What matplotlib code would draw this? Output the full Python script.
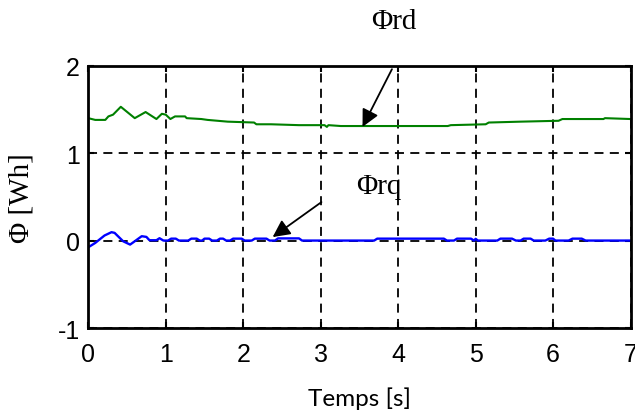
import matplotlib
matplotlib.use("Agg")
import matplotlib.pyplot as plt

plt.rcParams["font.family"] = ["Liberation Sans", "DejaVu Sans"]
plt.rcParams["axes.unicode_minus"] = False

# Phi_rd (green)
t_rd = [0.00, 0.09, 0.22, 0.26, 0.32, 0.42, 0.60, 0.74, 0.88, 0.95, 1.00,
        1.06, 1.12, 1.25, 1.27, 1.46, 1.54, 1.80, 2.14, 2.17, 2.36, 2.72,
        3.05, 3.08, 3.10, 3.26, 4.64, 4.68, 5.13, 5.17, 5.58, 6.07, 6.12,
        6.65, 6.67, 7.00]
phi_rd = [1.40, 1.38, 1.38, 1.42, 1.44, 1.53, 1.40, 1.47, 1.39, 1.45, 1.44,
          1.39, 1.42, 1.42, 1.40, 1.39, 1.38, 1.36, 1.35, 1.33, 1.33, 1.32,
          1.32, 1.30, 1.32, 1.31, 1.31, 1.32, 1.33, 1.35, 1.36, 1.37, 1.39,
          1.39, 1.40, 1.39]

# Phi_rq (blue)
t_rq = [0.00, 0.09, 0.21, 0.30, 0.34, 0.45, 0.54, 0.60, 0.69, 0.75, 0.79,
        0.88, 0.92, 0.97, 1.03, 1.07, 1.13, 1.17, 1.29, 1.33, 1.40, 1.44,
        1.47, 1.50, 1.56, 1.60, 1.66, 1.70, 1.74, 1.78, 1.83, 1.87, 1.98,
        2.02, 2.11, 2.15, 2.30, 2.34, 2.41, 2.45, 2.72, 2.76, 3.69, 3.73,
        4.59, 4.63, 4.72, 4.76, 4.94, 4.98, 5.00, 5.03, 5.28, 5.32, 5.47,
        5.52, 5.58, 5.62, 5.71, 5.75, 5.90, 5.95, 6.00, 6.03, 6.20, 6.25,
        6.37, 6.42, 7.00]
phi_rq = [-0.077, -0.027, 0.058, 0.096, 0.088, -0.008, -0.046, -0.008, 0.050, 0.042, 0.004,
          0.004, 0.027, 0.000, 0.000, 0.022, 0.022, 0.000, 0.000, 0.022, 0.022, 0.000,
          0.000, 0.022, 0.022, 0.000, 0.000, 0.022, 0.022, 0.000, 0.000, 0.022, 0.022,
          0.000, 0.000, 0.022, 0.022, 0.000, 0.000, 0.025, 0.025, 0.000, 0.000, 0.022,
          0.022, 0.000, 0.000, 0.022, 0.022, 0.000, 0.020, 0.000, 0.000, 0.022, 0.022,
          0.000, 0.000, 0.022, 0.022, 0.000, 0.000, 0.022, 0.022, 0.000, 0.000, 0.022,
          0.022, 0.000, 0.000]

x_ticks = [0, 1, 2, 3, 4, 5, 6, 7]
y_ticks = [-1, 0, 1, 2]

fig = plt.figure(figsize=(6.35, 4.14), dpi=100)
ax = fig.add_axes([0.139, 0.2053, 0.854, 0.6336])

ax.plot(t_rd, phi_rd, color=(0, 0.5, 0), lw=1.5)
ax.plot(t_rq, phi_rq, color=(0, 0, 1), lw=1.7)

ax.set_xlim(0, 7)
ax.set_ylim(-1, 2)
ax.set_xticks(x_ticks)
ax.set_yticks(y_ticks)
ax.grid(True, color="black", lw=1.3, linestyle=(0, (5, 3.5)))

for s in ax.spines.values():
    s.set_linewidth(2)
ax.tick_params(direction="in", length=4, width=1.5, top=True, right=True,
               labelsize=18)
ax.tick_params(axis="x", pad=10)
ax.tick_params(axis="y", pad=6)

ax.set_xlabel("Temps [s]", family="Lato", fontsize=17.5, labelpad=15)
ax.set_ylabel("Φ [Wh]", family="Liberation Serif", fontsize=21)
ax.yaxis.set_label_coords(-0.1, 0.5)

ax.text(3.94, 2.51, "Φrd", family="Liberation Serif", fontsize=21,
        ha="center", va="center", clip_on=False)
ax.text(3.75, 0.62, "Φrq", family="Liberation Serif", fontsize=21,
        ha="center", va="center")

arrow = dict(arrowstyle="-|>", color="black", lw=1.3, mutation_scale=26,
             shrinkA=0, shrinkB=0)
ax.annotate("", xy=(3.54, 1.30), xytext=(3.92, 1.96), arrowprops=arrow,
            annotation_clip=False)
ax.annotate("", xy=(2.38, 0.04), xytext=(3.01, 0.44), arrowprops=arrow,
            annotation_clip=False)

fig.savefig("out.png", dpi=100)
